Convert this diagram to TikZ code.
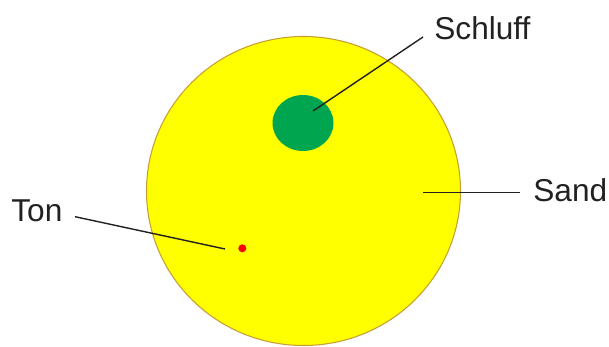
\documentclass[tikz,border=0pt]{standalone}
\usepackage{fontspec}
\setmainfont{Liberation Sans}
\usepackage{tikz}
\usetikzlibrary{calc}
\definecolor{sandyellow}{rgb}{1,1,0}
\definecolor{sandrim}{rgb}{0.78,0.62,0.2}
\definecolor{siltgreen}{rgb}{0,0.65,0.31}
\definecolor{labelgray}{rgb}{0.13,0.13,0.13}

\begin{document}
\begin{tikzpicture}[x=0.02cm, y=-0.02cm,
    label/.style={inner sep=0pt, anchor=base west, text=labelgray,
      font=\fontsize{18}{21}\selectfont},
    pointer/.style={draw=labelgray, line width=0.8pt}]
        \useasboundingbox (0,0) rectangle (609,347);
        % Draw soil grains
        \fill[sandyellow, draw=sandrim, line width=0.6pt] (303.5,191) ellipse [x radius=157, y radius=154.5];
        \fill[siltgreen] (303,123) ellipse [x radius=30.5, y radius=28];
        \fill[red] (242.3,248.3) circle (4);
        % Define points
        \coordinate (S1) at (313,111);
        \coordinate (S2) at (423,37);
        \coordinate (A1) at (423,192.7);
        \coordinate (A2) at (520,192.7);
        \coordinate (T1) at (75,216.7);
        \coordinate (T2) at (225,249);
        % Label the grains
        \node[label] (schluff) at (434,39.5) {Schluff};
        \node[label] (sand) at (533,202) {Sand};
        \node[label] (ton) at (11,222) {Ton};
        \draw[pointer] (S1) -- (S2);
        \draw[pointer] (A1) -- (A2);
        \draw[pointer] (T1) -- (T2);
    \end{tikzpicture}
\end{document}
